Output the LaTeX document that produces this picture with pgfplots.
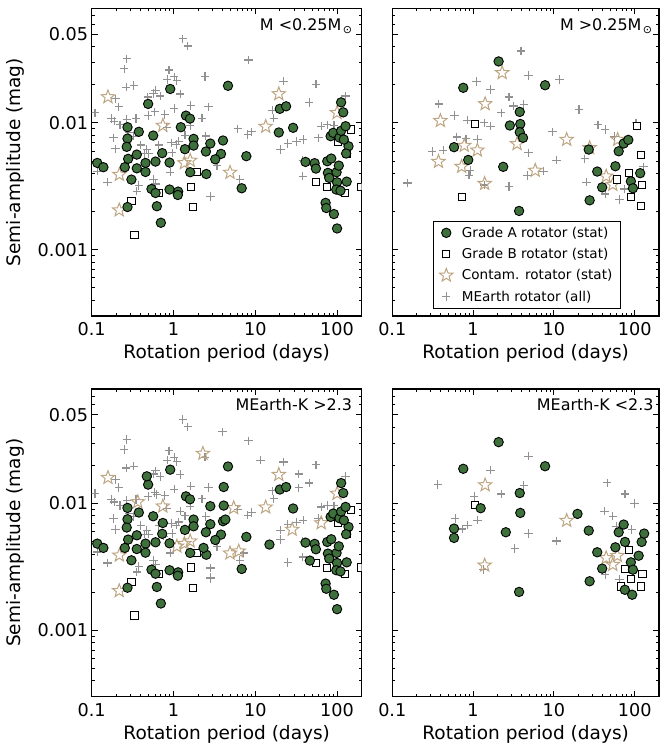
\documentclass[border=0pt]{standalone}
\usepackage{pgfplots}
\pgfplotsset{compat=1.18}
\usepackage{fontspec}
\setmainfont{DejaVu Sans}

\definecolor{gAcol}{RGB}{61,112,59}
\definecolor{starcol}{RGB}{190,165,130}
\definecolor{pluscol}{RGB}{145,145,145}

% open five-pointed star, like matplotlib's '*' marker
\pgfdeclareplotmark{ostar}{%
  \pgfpathmoveto{\pgfpointpolar{90}{\pgfplotmarksize}}%
  \pgfpathlineto{\pgfpointpolar{126}{0.42*\pgfplotmarksize}}%
  \pgfpathlineto{\pgfpointpolar{162}{\pgfplotmarksize}}%
  \pgfpathlineto{\pgfpointpolar{198}{0.42*\pgfplotmarksize}}%
  \pgfpathlineto{\pgfpointpolar{234}{\pgfplotmarksize}}%
  \pgfpathlineto{\pgfpointpolar{270}{0.42*\pgfplotmarksize}}%
  \pgfpathlineto{\pgfpointpolar{306}{\pgfplotmarksize}}%
  \pgfpathlineto{\pgfpointpolar{342}{0.42*\pgfplotmarksize}}%
  \pgfpathlineto{\pgfpointpolar{18}{\pgfplotmarksize}}%
  \pgfpathlineto{\pgfpointpolar{54}{0.42*\pgfplotmarksize}}%
  \pgfpathclose
  \pgfusepathqstroke
}

\newcommand{\msun}{\hspace{1.5bp}\raisebox{-3.5bp}{\fontsize{11}{12}\selectfont ⊙}}

\pgfplotsset{
  every axis/.append style={
    scale only axis, height=307.7bp,
    xmin=0.1, xmax=200, ymin=0.0003, ymax=0.08,
    xtick={0.1,1,10,100}, xticklabels={0.1,1,10,100},
    minor xtick={0.2,0.3,0.4,0.5,0.6,0.7,0.8,0.9,2,3,4,5,6,7,8,9,20,30,40,50,60,70,80,90,200},
    ytick={0.001,0.01,0.05},
    minor ytick={0.0003,0.0004,0.0005,0.0006,0.0007,0.0008,0.0009,0.002,0.003,0.004,0.005,0.006,0.007,0.008,0.009,0.02,0.03,0.04,0.06,0.07,0.08},
    tick align=inside,
    major tick length=6bp, minor tick length=3bp,
    tick style={black, line width=0.9bp},
    axis line style={line width=1.3bp},
    tick label style={font=\fontsize{17.7}{20}\selectfont},
    xticklabel style={yshift=-3bp},
    xlabel={Rotation period (days)},
    xlabel style={at={(axis description cs:0.5,-0.123)}, anchor=center, font=\fontsize{18.6}{21}\selectfont},
    ylabel style={at={(axis description cs:-0.284,0.5)}, anchor=center, font=\fontsize{18.6}{21}\selectfont},
    clip marker paths=true,
  },
  mkA/.style={only marks, mark=*, mark size=4.7bp, mark options={draw=black, fill=gAcol, line width=0.9bp}},
  mkB/.style={only marks, mark=square*, mark size=3.6bp, mark options={draw=black, fill=white, line width=1bp}},
  mkC/.style={only marks, mark=ostar, mark size=7bp, mark options={draw=starcol, line width=1bp}},
  mkM/.style={only marks, mark=+, mark size=4.2bp, mark options={draw=pluscol, line width=1.2bp}},
}

\begin{document}
\begin{tikzpicture}
\path[use as bounding box] (0,0) rectangle (660bp,-749bp);

% ---------------- top left: M < 0.25 Msun
\begin{loglogaxis}[width=270bp, at={(91.7bp,-8.3bp)}, anchor=north west,
  ylabel={Semi-amplitude (mag)}, yticklabels={0.001,0.01,0.05}]
\addplot[mkM] coordinates {
(0.268,0.032) (0.249,0.0267) (0.264,0.0191) (0.327,0.0197) (0.195,0.0155) (0.214,0.0134)
(0.603,0.0181) (0.57,0.0171) (0.687,0.0163) (0.485,0.016) (0.49,0.0114) (0.592,0.0122)
(0.879,0.0261) (0.838,0.022) (1.02,0.0231) (1.10,0.0215) (1.21,0.0169) (1.02,0.013)
(1.63,0.0137) (1.30,0.046) (1.50,0.0403) (0.174,0.0108) (0.188,0.0103) (0.222,0.00964)
(0.268,0.0106) (0.349,0.0108) (0.184,0.00762) (0.195,0.00624) (0.284,0.00834) (0.324,0.00785)
(0.398,0.0067) (0.438,0.00573) (0.5,0.00573) (0.472,0.00616) (0.662,0.0067) (0.785,0.0116)
(0.83,0.00919) (0.946,0.00695) (1.08,0.00674) (1.16,0.00716) (1.38,0.008) (1.60,0.00953)
(0.117,0.00415) (0.156,0.0034) (0.356,0.00289) (0.377,0.0032) (0.57,0.00357) (0.603,0.0033)
(0.912,0.00408) (0.964,0.0058) (0.11,0.012)
(8.24,0.0313) (2.43,0.0232) (22.1,0.0213) (55.1,0.0202) (45.6,0.0145) (16.1,0.0126)
(16.8,0.0109) (2.69,0.0134) (2.23,0.0109) (6.1,0.00897) (8.09,0.00809) (8.97,0.0085)
(2.49,0.00789) (20.3,0.00616) (25.0,0.00687) (31.9,0.00713) (38.5,0.00738) (59.4,0.00762)
(64.0,0.00941) (75.9,0.00964) (91.5,0.0096) (127,0.0163) (38.2,0.00505) (38.2,0.00379)
(6.46,0.00357) (2.82,0.00263) (3.4,0.0046)
};
\addplot[mkC] coordinates {
(0.158,0.016) (0.218,0.00391) (0.217,0.00205) (0.741,0.00953) (1.36,0.00483) (1.60,0.00505)
(4.91,0.00406) (19.4,0.0169) (13.4,0.00935) (100,0.012)
};
\addplot[mkB] coordinates {
(0.334,0.00131) (0.306,0.00242) (0.656,0.0028) (1.65,0.00313) (1.73,0.00216) (1.94,0.00408)
(55.1,0.00342) (74.5,0.0031) (124,0.0028) (149,0.00886) (102,0.00703) (131,0.00573) (195,0.00313)
};
\addplot[mkA] coordinates {
(0.117,0.00483) (0.139,0.00447) (0.49,0.0141) (0.912,0.0185) (0.274,0.00924) (0.377,0.0085)
(0.274,0.00752) (0.565,0.00794) (0.268,0.00647) (0.279,0.0052) (0.356,0.00562) (0.254,0.00447)
(0.356,0.00438) (0.455,0.00483) (0.455,0.0041) (0.603,0.00495) (0.728,0.00577) (0.895,0.00486)
(0.306,0.00357) (0.538,0.00301) (0.603,0.0028) (0.895,0.00298) (1.14,0.00287) (1.13,0.0027)
(0.274,0.00217) (0.626,0.0022) (0.701,0.00163) (1.23,0.00924) (1.42,0.0114) (1.59,0.0108)
(1.38,0.0062) (1.76,0.00748) (1.76,0.00662) (1.60,0.00408)
(2.82,0.00687) (2.49,0.00594) (4.03,0.00726) (3.81,0.00569) (3.24,0.00516) (2.52,0.00395)
(4.64,0.0196) (7.78,0.00546) (6.82,0.00305) (19.95,0.0129) (23.8,0.0135) (19.4,0.0084)
(29.0,0.00914) (41.1,0.00492) (53.1,0.00481) (55.1,0.00436) (75.9,0.00498) (77.3,0.00403)
(98.6,0.00408) (80.2,0.00368) (105,0.0046) (100,0.0034) (131,0.00344) (97.8,0.00298)
(110,0.00292) (84.9,0.00523) (83.4,0.00785) (89.7,0.00834) (107,0.00766) (112,0.00865)
(127,0.00941) (119,0.0121) (112,0.0145) (138,0.00654) (129,0.00573) (121,0.00738)
(72.4,0.00234) (73.8,0.00213) (91.5,0.00191) (100,0.00147)
};
\node[anchor=north east, inner sep=0pt, font=\fontsize{16}{18}\selectfont] at (rel axis cs:0.965,0.967) {M <0.25M\msun};
\end{loglogaxis}

% ---------------- top right: M > 0.25 Msun, with legend
\begin{loglogaxis}[width=266.7bp, at={(392.3bp,-8.3bp)}, anchor=north west, yticklabels={},
  legend style={at={(0.505,0.023)}, anchor=south, draw=black, line width=0.8bp,
    font=\fontsize{13.6}{16}\selectfont, row sep=5.5bp, column sep=7bp,
    inner xsep=6bp, inner ysep=4bp},
  legend cell align=left]
\addlegendimage{mkA}
\addlegendimage{mkB}
\addlegendimage{mkC}
\addlegendimage{mkM}
\addplot[mkM, forget plot] coordinates {
(3.92,0.0368) (1.10,0.0212) (1.65,0.0183) (0.377,0.0141) (0.586,0.0114) (0.853,0.0105)
(1.37,0.01) (2.23,0.012) (2.79,0.016) (3.18,0.0136) (0.627,0.00775) (0.815,0.00748)
(1.13,0.00738) (0.312,0.00594) (0.426,0.00608) (0.921,0.00421) (0.888,0.00387) (1.37,0.00324)
(2.79,0.00316) (0.154,0.00336) (1.65,0.0094) (4.86,0.0237) (11.7,0.022) (20.5,0.0127)
(4.23,0.014) (9.66,0.0085) (4.86,0.0058) (10.8,0.00507) (7.43,0.00415) (4.73,0.00384)
(35.1,0.00964) (43.1,0.00886) (56.1,0.00785) (104,0.01) (24.1,0.0052) (25.2,0.0034)
(43.1,0.00275) (64.6,0.00248) (74.3,0.00301) (129,0.0045)
};
\addplot[mkC, forget plot] coordinates {
(2.29,0.0248) (1.41,0.0141) (0.394,0.0104) (0.373,0.00495) (0.721,0.00452) (1.13,0.00608)
(0.778,0.00662) (3.5,0.00683) (1.39,0.00332) (14.4,0.00738) (5.88,0.00421) (27.7,0.00635)
(61.6,0.00738) (44.4,0.00379) (53.6,0.00326)
};
\addplot[mkB, forget plot] coordinates {
(1.05,0.0098) (0.734,0.00259) (108,0.00941) (119,0.00559) (85.7,0.00403) (61.1,0.00357)
(122,0.00322) (90.6,0.00259) (121,0.00222)
};
\addplot[mkA, forget plot] coordinates {
(2.07,0.0305) (0.756,0.0189) (0.581,0.00643) (0.871,0.0051) (2.36,0.0045) (2.85,0.00953)
(3.78,0.0122) (3.84,0.0098) (3.78,0.00844) (4.15,0.00762) (3.71,0.00202) (7.78,0.0198)
(27.0,0.00616) (34.4,0.00413) (39.6,0.0031) (27.7,0.00245) (57.7,0.00455) (63.4,0.00597)
(73.1,0.00687) (83.4,0.00734) (117,0.00401) (89.7,0.00346) (95.1,0.00305)
};
\legend{Grade A rotator (stat), Grade B rotator (stat), Contam. rotator (stat), MEarth rotator (all)}
\node[anchor=north east, inner sep=0pt, font=\fontsize{16}{18}\selectfont] at (rel axis cs:0.975,0.967) {M >0.25M\msun};
\end{loglogaxis}

% ---------------- bottom left: MEarth-K > 2.3
\begin{loglogaxis}[width=270bp, at={(91.7bp,-389bp)}, anchor=north west,
  ylabel={Semi-amplitude (mag)}, yticklabels={0.001,0.01,0.05}]
\addplot[mkM] coordinates {
(0.268,0.032) (0.249,0.0267) (0.264,0.0191) (0.327,0.0197) (0.195,0.0155) (0.214,0.0134)
(0.603,0.0181) (0.57,0.0171) (0.687,0.0163) (0.485,0.016) (0.49,0.0114) (0.592,0.0122)
(0.879,0.0261) (0.838,0.022) (1.02,0.0231) (1.10,0.0215) (1.21,0.0169) (1.02,0.013)
(1.63,0.0137) (1.30,0.046) (1.50,0.0403) (0.174,0.0108) (0.188,0.0103) (0.222,0.00964)
(0.268,0.0106) (0.349,0.0108) (0.184,0.00762) (0.195,0.00624) (0.284,0.00834) (0.324,0.00785)
(0.398,0.0067) (0.438,0.00573) (0.5,0.00573) (0.472,0.00616) (0.662,0.0067) (0.785,0.0116)
(0.83,0.00919) (0.946,0.00695) (1.08,0.00674) (1.16,0.00716) (1.38,0.008) (1.60,0.00953)
(0.117,0.00415) (0.156,0.0034) (0.356,0.00289) (0.377,0.0032) (0.57,0.00357) (0.603,0.0033)
(0.912,0.00408) (0.964,0.0058) (0.11,0.012) (0.626,0.0118) (0.755,0.00552) (1.21,0.00869)
(8.24,0.0313) (2.43,0.0232) (22.1,0.0213) (55.1,0.0202) (45.6,0.0145) (16.1,0.0126)
(16.8,0.0109) (2.69,0.0134) (2.23,0.0109) (6.1,0.00897) (8.09,0.00809) (8.97,0.0085)
(2.49,0.00789) (20.3,0.00616) (25.0,0.00687) (31.9,0.00713) (38.5,0.00738) (59.4,0.00762)
(64.0,0.00941) (75.9,0.00964) (91.5,0.0096) (127,0.0163) (38.2,0.00505) (38.2,0.00379)
(6.46,0.00357) (2.82,0.00263) (3.4,0.0046) (3.99,0.0368) (11.6,0.022) (34.1,0.0171)
(34.1,0.0133) (25.0,0.00344) (2.82,0.0031) (2.82,0.00256) (7.23,0.00408) (20.3,0.0052)
};
\addplot[mkC] coordinates {
(0.158,0.016) (0.218,0.00391) (0.217,0.00205) (0.741,0.00953) (1.36,0.00483) (1.60,0.00505)
(4.91,0.00406) (19.4,0.0169) (13.4,0.00935) (100,0.012) (0.366,0.0103) (2.29,0.0248)
(5.45,0.00924) (6.27,0.00421) (28.3,0.00624) (64,0.00703) (1.10,0.0046)
};
\addplot[mkB] coordinates {
(0.334,0.00131) (0.306,0.00242) (0.656,0.0028) (1.65,0.00313) (1.73,0.00216) (1.94,0.00408)
(55.1,0.00342) (74.5,0.0031) (124,0.0028) (149,0.00886) (102,0.00703) (131,0.00573) (195,0.00313)
};
\addplot[mkA] coordinates {
(0.117,0.00483) (0.139,0.00447) (0.49,0.0141) (0.912,0.0185) (0.274,0.00924) (0.377,0.0085)
(0.274,0.00752) (0.565,0.00794) (0.268,0.00647) (0.279,0.0052) (0.356,0.00562) (0.254,0.00447)
(0.356,0.00438) (0.455,0.00483) (0.455,0.0041) (0.603,0.00495) (0.728,0.00577) (0.895,0.00486)
(0.306,0.00357) (0.538,0.00301) (0.603,0.0028) (0.895,0.00298) (1.14,0.00287) (1.13,0.0027)
(0.274,0.00217) (0.626,0.0022) (0.701,0.00163) (1.42,0.0114) (1.59,0.0108)
(1.38,0.0062) (1.76,0.00748) (1.76,0.00662) (1.60,0.00408) (0.472,0.0164) (0.741,0.00703)
(2.82,0.00687) (2.49,0.00594) (4.03,0.00726) (3.81,0.00569) (3.24,0.00516) (2.52,0.00395)
(4.64,0.0196) (7.78,0.00546) (6.82,0.00305) (19.95,0.0129) (23.8,0.0135)
(29.0,0.00914) (41.1,0.00492) (53.1,0.00481) (55.1,0.00436) (75.9,0.00498) (77.3,0.00403)
(98.6,0.00408) (80.2,0.00368) (105,0.0046) (100,0.0034) (131,0.00344) (97.8,0.00298)
(110,0.00292) (84.9,0.00523) (83.4,0.00785) (89.7,0.00834) (107,0.00766) (112,0.00865)
(127,0.00941) (119,0.0121) (112,0.0145) (138,0.00654) (129,0.00573) (121,0.00738)
(72.4,0.00234) (73.8,0.00213) (91.5,0.00191) (100,0.00147)
(4.11,0.0135) (2.82,0.00953) (4.11,0.00964) (4.31,0.00748) (2.33,0.00447) (14.9,0.00475)
(46.5,0.00355)
};
\node[anchor=north east, inner sep=0pt, font=\fontsize{16}{18}\selectfont] at (rel axis cs:0.965,0.97) {MEarth-K >2.3};
\end{loglogaxis}

% ---------------- bottom right: MEarth-K < 2.3
\begin{loglogaxis}[width=266.7bp, at={(392.3bp,-389bp)}, anchor=north west, yticklabels={}]
\addplot[mkM] coordinates {
(0.366,0.0141) (1.65,0.0183) (2.23,0.0119) (1.03,0.0114) (0.6,0.00762) (0.734,0.0063)
(0.856,0.00674) (1.13,0.00738) (3.28,0.00441) (1.35,0.00301) (4.86,0.0236) (4.23,0.0139)
(4.86,0.0058) (10.8,0.00507) (45.6,0.0146) (75.9,0.0119) (100,0.01) (42.5,0.00869)
(53.7,0.00794) (59.0,0.00662) (92.2,0.00624) (43.1,0.00275) (64.6,0.00251)
};
\addplot[mkC] coordinates {
(1.41,0.014) (1.39,0.00326) (14.4,0.00734) (44.4,0.00373) (53.6,0.0033) (61.1,0.00388)
};
\addplot[mkB] coordinates {
(1.05,0.00976) (85.7,0.00428) (75.9,0.00307) (90.6,0.00256) (125,0.00279) (121,0.00222) (67.8,0.00222)
};
\addplot[mkA] coordinates {
(2.07,0.0305) (0.756,0.0188) (3.78,0.0121) (1.24,0.00919) (3.84,0.00844) (0.581,0.00635)
(0.581,0.00536) (2.54,0.00594) (3.71,0.00201) (7.78,0.0197) (19.6,0.00829) (27,0.00612)
(34.4,0.00413) (39.6,0.00307) (27.7,0.00244) (57.7,0.00452) (63.4,0.00594) (73.1,0.00683)
(75.9,0.00498) (112,0.00388) (122,0.00498) (131,0.0058) (89.7,0.00344) (95.1,0.00301)
(75.6,0.00209) (93.1,0.00191)
};
\node[anchor=north east, inner sep=0pt, font=\fontsize{16}{18}\selectfont] at (rel axis cs:0.98,0.97) {MEarth-K <2.3};
\end{loglogaxis}
\end{tikzpicture}
\end{document}
